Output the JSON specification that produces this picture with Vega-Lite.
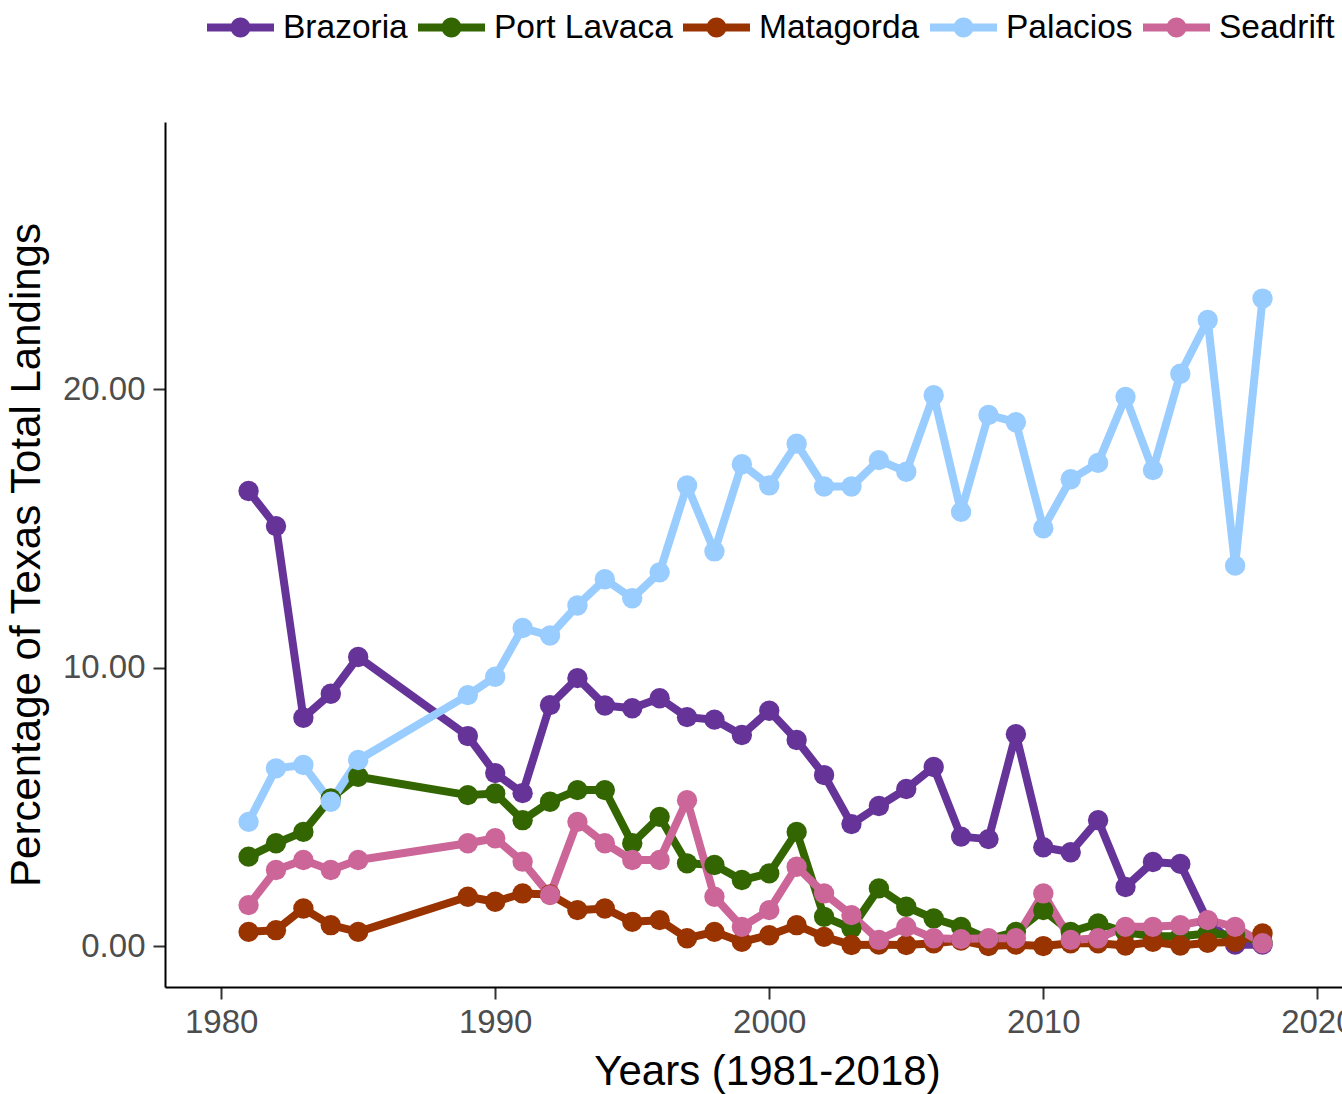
{
  "$schema": "https://vega.github.io/schema/vega-lite/v6.json",
  "autosize": {"type": "none"},
  "padding": {"left": 165, "top": 122, "right": 0, "bottom": 107},
  "width": 1177,
  "height": 865,
  "background": "white",
  "config": {
    "view": {"stroke": null},
    "font": "Liberation Sans",
    "axis": {
      "grid": false,
      "domainColor": "#000000",
      "domainWidth": 2,
      "tickColor": "#333333",
      "tickWidth": 2,
      "tickSize": 12,
      "labelFont": "Liberation Sans",
      "labelFontSize": 33,
      "labelColor": "#4D4D4D",
      "titleFont": "Liberation Sans",
      "titleFontSize": 42,
      "titleFontWeight": "normal",
      "titleColor": "#000000"
    },
    "legend": {
      "labelFont": "Liberation Sans",
      "labelFontSize": 33.5,
      "labelColor": "#000000",
      "labelLimit": 0
    }
  },
  "datasets": {
    "landings": [
      {"site": "Brazoria", "year": 1981, "pct": 16.34},
      {"site": "Brazoria", "year": 1982, "pct": 15.08},
      {"site": "Brazoria", "year": 1983, "pct": 8.2},
      {"site": "Brazoria", "year": 1984, "pct": 9.06},
      {"site": "Brazoria", "year": 1985, "pct": 10.38},
      {"site": "Brazoria", "year": 1989, "pct": 7.54},
      {"site": "Brazoria", "year": 1990, "pct": 6.21},
      {"site": "Brazoria", "year": 1991, "pct": 5.49},
      {"site": "Brazoria", "year": 1992, "pct": 8.65},
      {"site": "Brazoria", "year": 1993, "pct": 9.62},
      {"site": "Brazoria", "year": 1994, "pct": 8.64},
      {"site": "Brazoria", "year": 1995, "pct": 8.54},
      {"site": "Brazoria", "year": 1996, "pct": 8.9},
      {"site": "Brazoria", "year": 1997, "pct": 8.22},
      {"site": "Brazoria", "year": 1998, "pct": 8.13},
      {"site": "Brazoria", "year": 1999, "pct": 7.58},
      {"site": "Brazoria", "year": 2000, "pct": 8.45},
      {"site": "Brazoria", "year": 2001, "pct": 7.4},
      {"site": "Brazoria", "year": 2002, "pct": 6.14},
      {"site": "Brazoria", "year": 2003, "pct": 4.38},
      {"site": "Brazoria", "year": 2004, "pct": 5.03},
      {"site": "Brazoria", "year": 2005, "pct": 5.64},
      {"site": "Brazoria", "year": 2006, "pct": 6.43},
      {"site": "Brazoria", "year": 2007, "pct": 3.93},
      {"site": "Brazoria", "year": 2008, "pct": 3.84},
      {"site": "Brazoria", "year": 2009, "pct": 7.61},
      {"site": "Brazoria", "year": 2010, "pct": 3.55},
      {"site": "Brazoria", "year": 2011, "pct": 3.37},
      {"site": "Brazoria", "year": 2012, "pct": 4.52},
      {"site": "Brazoria", "year": 2013, "pct": 2.12},
      {"site": "Brazoria", "year": 2014, "pct": 3.02},
      {"site": "Brazoria", "year": 2015, "pct": 2.95},
      {"site": "Brazoria", "year": 2016, "pct": 0.9},
      {"site": "Brazoria", "year": 2017, "pct": 0.05},
      {"site": "Brazoria", "year": 2018, "pct": 0.05},
      {"site": "Port Lavaca", "year": 1981, "pct": 3.21},
      {"site": "Port Lavaca", "year": 1982, "pct": 3.69},
      {"site": "Port Lavaca", "year": 1983, "pct": 4.1},
      {"site": "Port Lavaca", "year": 1984, "pct": 5.3},
      {"site": "Port Lavaca", "year": 1985, "pct": 6.08},
      {"site": "Port Lavaca", "year": 1989, "pct": 5.42},
      {"site": "Port Lavaca", "year": 1990, "pct": 5.48},
      {"site": "Port Lavaca", "year": 1991, "pct": 4.52},
      {"site": "Port Lavaca", "year": 1992, "pct": 5.18},
      {"site": "Port Lavaca", "year": 1993, "pct": 5.6},
      {"site": "Port Lavaca", "year": 1994, "pct": 5.6},
      {"site": "Port Lavaca", "year": 1995, "pct": 3.69},
      {"site": "Port Lavaca", "year": 1996, "pct": 4.64},
      {"site": "Port Lavaca", "year": 1997, "pct": 2.97},
      {"site": "Port Lavaca", "year": 1998, "pct": 2.91},
      {"site": "Port Lavaca", "year": 1999, "pct": 2.37},
      {"site": "Port Lavaca", "year": 2000, "pct": 2.61},
      {"site": "Port Lavaca", "year": 2001, "pct": 4.1},
      {"site": "Port Lavaca", "year": 2002, "pct": 1.05},
      {"site": "Port Lavaca", "year": 2003, "pct": 0.64},
      {"site": "Port Lavaca", "year": 2004, "pct": 2.07},
      {"site": "Port Lavaca", "year": 2005, "pct": 1.41},
      {"site": "Port Lavaca", "year": 2006, "pct": 0.99},
      {"site": "Port Lavaca", "year": 2007, "pct": 0.69},
      {"site": "Port Lavaca", "year": 2008, "pct": 0.25},
      {"site": "Port Lavaca", "year": 2009, "pct": 0.51},
      {"site": "Port Lavaca", "year": 2010, "pct": 1.29},
      {"site": "Port Lavaca", "year": 2011, "pct": 0.51},
      {"site": "Port Lavaca", "year": 2012, "pct": 0.81},
      {"site": "Port Lavaca", "year": 2013, "pct": 0.5},
      {"site": "Port Lavaca", "year": 2014, "pct": 0.35},
      {"site": "Port Lavaca", "year": 2015, "pct": 0.35},
      {"site": "Port Lavaca", "year": 2016, "pct": 0.45},
      {"site": "Port Lavaca", "year": 2017, "pct": 0.4},
      {"site": "Port Lavaca", "year": 2018, "pct": 0.15},
      {"site": "Matagorda", "year": 1981, "pct": 0.51},
      {"site": "Matagorda", "year": 1982, "pct": 0.57},
      {"site": "Matagorda", "year": 1983, "pct": 1.35},
      {"site": "Matagorda", "year": 1984, "pct": 0.75},
      {"site": "Matagorda", "year": 1985, "pct": 0.51},
      {"site": "Matagorda", "year": 1989, "pct": 1.77},
      {"site": "Matagorda", "year": 1990, "pct": 1.59},
      {"site": "Matagorda", "year": 1991, "pct": 1.89},
      {"site": "Matagorda", "year": 1992, "pct": 1.85},
      {"site": "Matagorda", "year": 1993, "pct": 1.29},
      {"site": "Matagorda", "year": 1994, "pct": 1.35},
      {"site": "Matagorda", "year": 1995, "pct": 0.87},
      {"site": "Matagorda", "year": 1996, "pct": 0.93},
      {"site": "Matagorda", "year": 1997, "pct": 0.28},
      {"site": "Matagorda", "year": 1998, "pct": 0.51},
      {"site": "Matagorda", "year": 1999, "pct": 0.15},
      {"site": "Matagorda", "year": 2000, "pct": 0.39},
      {"site": "Matagorda", "year": 2001, "pct": 0.75},
      {"site": "Matagorda", "year": 2002, "pct": 0.33},
      {"site": "Matagorda", "year": 2003, "pct": 0.04},
      {"site": "Matagorda", "year": 2004, "pct": 0.05},
      {"site": "Matagorda", "year": 2005, "pct": 0.04},
      {"site": "Matagorda", "year": 2006, "pct": 0.1},
      {"site": "Matagorda", "year": 2007, "pct": 0.2},
      {"site": "Matagorda", "year": 2008, "pct": 0.0},
      {"site": "Matagorda", "year": 2009, "pct": 0.05},
      {"site": "Matagorda", "year": 2010, "pct": 0.0},
      {"site": "Matagorda", "year": 2011, "pct": 0.1},
      {"site": "Matagorda", "year": 2012, "pct": 0.1},
      {"site": "Matagorda", "year": 2013, "pct": 0.02},
      {"site": "Matagorda", "year": 2014, "pct": 0.15},
      {"site": "Matagorda", "year": 2015, "pct": 0.02},
      {"site": "Matagorda", "year": 2016, "pct": 0.12},
      {"site": "Matagorda", "year": 2017, "pct": 0.15},
      {"site": "Matagorda", "year": 2018, "pct": 0.45},
      {"site": "Palacios", "year": 1981, "pct": 4.46},
      {"site": "Palacios", "year": 1982, "pct": 6.38},
      {"site": "Palacios", "year": 1983, "pct": 6.5},
      {"site": "Palacios", "year": 1984, "pct": 5.18},
      {"site": "Palacios", "year": 1985, "pct": 6.68},
      {"site": "Palacios", "year": 1989, "pct": 9.01},
      {"site": "Palacios", "year": 1990, "pct": 9.67},
      {"site": "Palacios", "year": 1991, "pct": 11.42},
      {"site": "Palacios", "year": 1992, "pct": 11.15},
      {"site": "Palacios", "year": 1993, "pct": 12.23},
      {"site": "Palacios", "year": 1994, "pct": 13.17},
      {"site": "Palacios", "year": 1995, "pct": 12.49},
      {"site": "Palacios", "year": 1996, "pct": 13.42},
      {"site": "Palacios", "year": 1997, "pct": 16.54},
      {"site": "Palacios", "year": 1998, "pct": 14.17},
      {"site": "Palacios", "year": 1999, "pct": 17.3},
      {"site": "Palacios", "year": 2000, "pct": 16.54},
      {"site": "Palacios", "year": 2001, "pct": 18.04},
      {"site": "Palacios", "year": 2002, "pct": 16.5},
      {"site": "Palacios", "year": 2003, "pct": 16.5},
      {"site": "Palacios", "year": 2004, "pct": 17.45},
      {"site": "Palacios", "year": 2005, "pct": 17.03},
      {"site": "Palacios", "year": 2006, "pct": 19.78},
      {"site": "Palacios", "year": 2007, "pct": 15.59},
      {"site": "Palacios", "year": 2008, "pct": 19.07},
      {"site": "Palacios", "year": 2009, "pct": 18.81},
      {"site": "Palacios", "year": 2010, "pct": 15.0},
      {"site": "Palacios", "year": 2011, "pct": 16.76},
      {"site": "Palacios", "year": 2012, "pct": 17.35},
      {"site": "Palacios", "year": 2013, "pct": 19.72},
      {"site": "Palacios", "year": 2014, "pct": 17.09},
      {"site": "Palacios", "year": 2015, "pct": 20.55},
      {"site": "Palacios", "year": 2016, "pct": 22.48},
      {"site": "Palacios", "year": 2017, "pct": 13.66},
      {"site": "Palacios", "year": 2018, "pct": 23.25},
      {"site": "Seadrift", "year": 1981, "pct": 1.47},
      {"site": "Seadrift", "year": 1982, "pct": 2.73},
      {"site": "Seadrift", "year": 1983, "pct": 3.09},
      {"site": "Seadrift", "year": 1984, "pct": 2.73},
      {"site": "Seadrift", "year": 1985, "pct": 3.09},
      {"site": "Seadrift", "year": 1989, "pct": 3.69},
      {"site": "Seadrift", "year": 1990, "pct": 3.87},
      {"site": "Seadrift", "year": 1991, "pct": 3.03},
      {"site": "Seadrift", "year": 1992, "pct": 1.83},
      {"site": "Seadrift", "year": 1993, "pct": 4.46},
      {"site": "Seadrift", "year": 1994, "pct": 3.69},
      {"site": "Seadrift", "year": 1995, "pct": 3.09},
      {"site": "Seadrift", "year": 1996, "pct": 3.09},
      {"site": "Seadrift", "year": 1997, "pct": 5.24},
      {"site": "Seadrift", "year": 1998, "pct": 1.77},
      {"site": "Seadrift", "year": 1999, "pct": 0.69},
      {"site": "Seadrift", "year": 2000, "pct": 1.29},
      {"site": "Seadrift", "year": 2001, "pct": 2.85},
      {"site": "Seadrift", "year": 2002, "pct": 1.89},
      {"site": "Seadrift", "year": 2003, "pct": 1.11},
      {"site": "Seadrift", "year": 2004, "pct": 0.22},
      {"site": "Seadrift", "year": 2005, "pct": 0.69},
      {"site": "Seadrift", "year": 2006, "pct": 0.28},
      {"site": "Seadrift", "year": 2007, "pct": 0.25},
      {"site": "Seadrift", "year": 2008, "pct": 0.28},
      {"site": "Seadrift", "year": 2009, "pct": 0.28},
      {"site": "Seadrift", "year": 2010, "pct": 1.89},
      {"site": "Seadrift", "year": 2011, "pct": 0.22},
      {"site": "Seadrift", "year": 2012, "pct": 0.28},
      {"site": "Seadrift", "year": 2013, "pct": 0.69},
      {"site": "Seadrift", "year": 2014, "pct": 0.69},
      {"site": "Seadrift", "year": 2015, "pct": 0.75},
      {"site": "Seadrift", "year": 2016, "pct": 0.93},
      {"site": "Seadrift", "year": 2017, "pct": 0.69},
      {"site": "Seadrift", "year": 2018, "pct": 0.1}
    ]
  },
  "data": {"name": "landings"},
  "encoding": {
    "x": {
      "field": "year",
      "type": "quantitative",
      "scale": {"domain": [1977.95, 2020.9], "nice": false, "zero": false},
      "axis": {
        "values": [1980, 1990, 2000, 2010, 2020],
        "format": "d",
        "labelPadding": 7,
        "labelFlush": false,
        "labelOverlap": false,
        "title": "Years (1981-2018)",
        "titlePadding": 12,
        "titleX": 602
      }
    },
    "y": {
      "field": "pct",
      "type": "quantitative",
      "scale": {"domain": [-1.47, 29.59], "nice": false, "zero": false},
      "axis": {
        "values": [0, 10, 20],
        "format": ".2f",
        "labelPadding": 8,
        "title": "Percentage of Texas Total Landings",
        "titlePadding": 14
      }
    },
    "color": {
      "field": "site",
      "type": "nominal",
      "scale": {
        "domain": ["Brazoria", "Port Lavaca", "Matagorda", "Palacios", "Seadrift"],
        "range": ["#663399", "#336600", "#993300", "#99CCFF", "#CC6699"]
      },
      "legend": {
        "title": null,
        "orient": "none",
        "direction": "horizontal",
        "legendX": 42,
        "legendY": -128,
        "padding": 0,
        "offset": 0,
        "columnPadding": 10,
        "labelOffset": 9,
        "labelLimit": 0,
        "symbolType": "M-1,-0.12L1,-0.12L1,0.12L-1,0.12Z M-0.3,0A0.3,0.3 0 1,1 0.3,0A0.3,0.3 0 1,1 -0.3,0Z",
        "symbolSize": 4489,
        "symbolStrokeWidth": 0,
        "symbolOpacity": 1
      }
    }
  },
  "layer": [
    {"mark": {"type": "line", "strokeWidth": 8, "strokeJoin": "round"}},
    {"mark": {"type": "point", "shape": "circle", "filled": true, "size": 415, "opacity": 1}}
  ]
}
